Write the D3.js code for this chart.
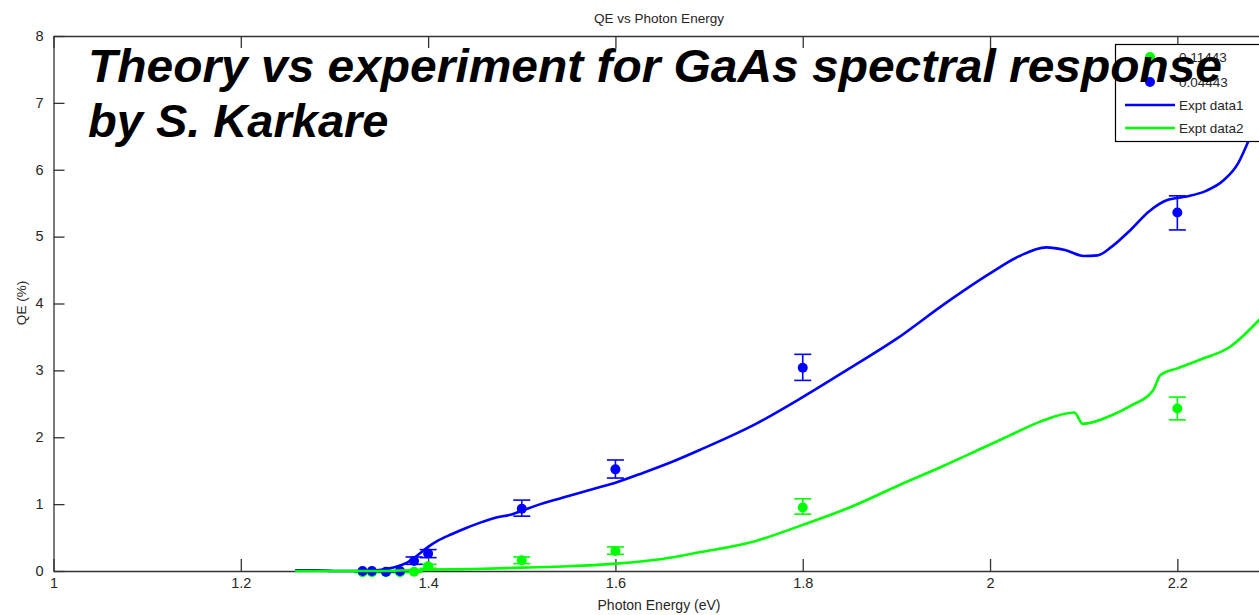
<!DOCTYPE html>
<html><head><meta charset="utf-8">
<script src="https://cdn.jsdelivr.net/npm/d3@7"></script>
<style>html,body{margin:0;padding:0;background:#fff;overflow:hidden}svg{display:block}</style>
</head><body>
<script>
// ---- data ----
const xTicks = [1, 1.2, 1.4, 1.6, 1.8, 2, 2.2];
const yTicks = [0, 1, 2, 3, 4, 5, 6, 7, 8];
const pointX = [1.33, 1.34, 1.355, 1.37, 1.385, 1.40, 1.5, 1.6, 1.8, 2.2];
const blueY   = [0, 0, -0.01, 0, 0.15, 0.26, 0.93, 1.52, 3.04, 5.36];
const blueLo  = [0, 0, -0.01, 0, 0.10, 0.20, 0.82, 1.39, 2.85, 5.10];
const blueHi  = [0, 0, -0.01, 0, 0.21, 0.32, 1.06, 1.66, 3.24, 5.61];
const greenY  = [-0.02, -0.02, -0.02, -0.02, -0.01, 0.07, 0.16, 0.30, 0.95, 2.43];
const greenLo = [-0.02, -0.02, -0.02, -0.02, -0.02, 0.04, 0.11, 0.25, 0.85, 2.26];
const greenHi = [-0.02, -0.02, -0.02, -0.02, 0.00, 0.10, 0.21, 0.36, 1.08, 2.60];
const data1X = [1.258, 1.28, 1.30, 1.33, 1.35, 1.365, 1.377, 1.39, 1.40, 1.41, 1.425, 1.44, 1.455, 1.47, 1.49, 1.5, 1.52, 1.55, 1.58, 1.6, 1.63, 1.66, 1.69, 1.75, 1.8, 1.85, 1.9, 1.95, 2.0, 2.03, 2.06, 2.08, 2.1, 2.115, 2.13, 2.15, 2.17, 2.19, 2.21, 2.23, 2.25, 2.265, 2.275, 2.29, 2.3];
const data1Y = [0.01, 0.01, 0.0, 0.0, 0.02, 0.06, 0.12, 0.25, 0.36, 0.45, 0.55, 0.64, 0.72, 0.79, 0.85, 0.9, 1.0, 1.12, 1.24, 1.32, 1.47, 1.63, 1.81, 2.2, 2.6, 3.03, 3.47, 3.98, 4.45, 4.70, 4.84, 4.80, 4.71, 4.72, 4.85, 5.1, 5.38, 5.55, 5.6, 5.68, 5.85, 6.1, 6.4, 6.9, 7.2];
const data2X = [1.258, 1.30, 1.35, 1.4, 1.45, 1.5, 1.55, 1.6, 1.65, 1.69, 1.75, 1.8, 1.85, 1.904, 1.95, 1.989, 2.02, 2.053, 2.09, 2.099, 2.13, 2.15, 2.174, 2.182, 2.2, 2.224, 2.256, 2.287, 2.3];
const data2Y = [0, 0, 0.0, 0.02, 0.03, 0.05, 0.07, 0.11, 0.18, 0.28, 0.45, 0.69, 0.95, 1.29, 1.57, 1.82, 2.02, 2.23, 2.37, 2.2, 2.33, 2.47, 2.70, 2.93, 3.03, 3.16, 3.35, 3.75, 3.95];
const legendLabels = ["0.11443", "0.04443", "Expt data1", "Expt data2"];

const W = 1259, H = 615;
const blue = "#0000ff", green = "#00ff00";
const svg = d3.select("body").append("svg").attr("width", W).attr("height", H);

const x = d3.scaleLinear().domain([1, 2.3]).range([53.5, 1271]);
const y = d3.scaleLinear().domain([0, 8]).range([571, 36]);
const L = x.range()[0], R = x.range()[1], T = y.range()[1], B = y.range()[0];
const font = "'Liberation Sans', Arial, sans-serif";

// axes
const axB = svg.append("g").attr("transform", `translate(0,${B})`)
  .call(d3.axisBottom(x).tickValues(xTicks).tickFormat(d3.format("")).tickSizeInner(-12).tickSizeOuter(0).tickPadding(8));
const axT = svg.append("g").attr("transform", `translate(0,${T})`)
  .call(d3.axisTop(x).tickValues(xTicks).tickFormat("").tickSizeInner(-12).tickSizeOuter(0));
const axL = svg.append("g").attr("transform", `translate(${L},0)`)
  .call(d3.axisLeft(y).tickValues(yTicks).tickFormat(d3.format("d")).tickSizeInner(-11).tickSizeOuter(0).tickPadding(10));
const axR = svg.append("g").attr("transform", `translate(${R},0)`)
  .call(d3.axisRight(y).tickValues(yTicks).tickFormat("").tickSizeInner(-11).tickSizeOuter(0));
[axB, axT, axL, axR].forEach(g => {
  g.selectAll("path.domain").attr("stroke", "#333").attr("stroke-width", 1.3);
  g.selectAll(".tick line").attr("stroke", "#333").attr("stroke-width", 1.3);
  g.selectAll("text").attr("font-family", font).attr("font-size", 14.5).attr("fill", "#262626");
});
axB.selectAll(".tick text").attr("dy", "0.6em");
axL.selectAll(".tick text").attr("dy", "0.3em");

// titles
svg.append("text").attr("x", 659).attr("y", 23).attr("text-anchor", "middle")
  .attr("font-family", font).attr("font-size", 13.5).attr("fill", "#262626").text("QE vs Photon Energy");
svg.append("text").attr("x", 659).attr("y", 610).attr("text-anchor", "middle")
  .attr("font-family", font).attr("font-size", 14).attr("fill", "#262626").text("Photon Energy (eV)");
svg.append("text").attr("transform", "translate(26,303) rotate(-90)").attr("text-anchor", "middle")
  .attr("font-family", font).attr("font-size", 13.5).attr("fill", "#262626").text("QE (%)");

const plot = svg.append("g");
const capW = 8.5;
function drawPoints(vals, lo, hi, col) {
  const g = plot.append("g");
  pointX.forEach((px, i) => {
    const cx = x(px);
    g.append("line").attr("x1", cx).attr("x2", cx).attr("y1", y(lo[i])).attr("y2", y(hi[i])).attr("stroke", col).attr("stroke-width", 1.6);
    [lo[i], hi[i]].forEach(v => g.append("line").attr("x1", cx - capW).attr("x2", cx + capW).attr("y1", y(v)).attr("y2", y(v)).attr("stroke", col).attr("stroke-width", 1.6));
    g.append("circle").attr("cx", cx).attr("cy", y(vals[i])).attr("r", 5).attr("fill", col);
  });
}
drawPoints(greenY, greenLo, greenHi, green);
drawPoints(blueY, blueLo, blueHi, blue);

const line = d3.line().x(d => x(d[0])).y(d => y(d[1])).curve(d3.curveMonotoneX);
plot.append("path").datum(data1X.map((v, i) => [v, data1Y[i]])).attr("d", line)
  .attr("fill", "none").attr("stroke", blue).attr("stroke-width", 2.6).attr("stroke-linejoin", "round");
plot.append("path").datum(data2X.map((v, i) => [v, data2Y[i]])).attr("d", line)
  .attr("fill", "none").attr("stroke", green).attr("stroke-width", 2.6).attr("stroke-linejoin", "round");

// legend
const lg = svg.append("g");
lg.append("rect").attr("x", 1115.5).attr("y", 44.5).attr("width", 160).attr("height", 97)
  .attr("fill", "#fff").attr("stroke", "#000").attr("stroke-width", 1.2);
const rowY = [57, 82, 105, 128];
legendLabels.forEach((t, i) => {
  const yy = rowY[i];
  if (i < 2) {
    lg.append("circle").attr("cx", 1150).attr("cy", yy).attr("r", 5).attr("fill", i === 0 ? green : blue);
  } else {
    lg.append("line").attr("x1", 1125).attr("x2", 1175).attr("y1", yy).attr("y2", yy)
      .attr("stroke", i === 2 ? blue : green).attr("stroke-width", 2.6);
  }
  lg.append("text").attr("x", 1179).attr("y", yy).attr("dy", "0.35em")
    .attr("font-family", font).attr("font-size", 13.5).attr("fill", "#262626").text(t);
});

// overlay annotation (drawn over the legend, as in the original slide)
const ann = svg.append("g").attr("font-family", font).attr("font-weight", "bold").attr("font-style", "italic")
  .attr("font-size", 47).attr("fill", "#000");
const t1 = ann.append("text").attr("x", 88).attr("y", 82).text("Theory vs experiment for GaAs spectral response");
ann.append("text").attr("x", 88).attr("y", 137).text("by S. Karkare");
const len = t1.node().getComputedTextLength();
if (Math.abs(len - 1134) > 8) t1.attr("textLength", 1134).attr("lengthAdjust", "spacingAndGlyphs");
</script>
</body></html>
